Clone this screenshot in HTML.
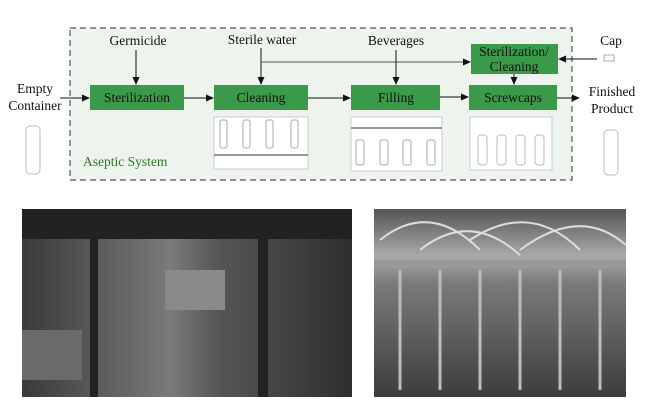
<!DOCTYPE html>
<html><head><style>
body{margin:0;background:#fff;}
svg{display:block;font-family:"Liberation Serif",serif;}
</style></head><body>
<svg width="648" height="407" viewBox="0 0 648 407" xmlns="http://www.w3.org/2000/svg">
<defs>
<marker id="a" markerWidth="8" markerHeight="8" refX="7" refY="4" orient="auto" markerUnits="userSpaceOnUse"><path d="M0,0.5 L8,4 L0,7.5 Z" fill="#111"/></marker>
<linearGradient id="lp" x1="0" y1="0" x2="1" y2="0"><stop offset="0" stop-color="#3a3a3a"/><stop offset="0.45" stop-color="#7a7a7a"/><stop offset="0.6" stop-color="#555"/><stop offset="1" stop-color="#2e2e2e"/></linearGradient>
<linearGradient id="rp" x1="0" y1="0" x2="0" y2="1"><stop offset="0" stop-color="#555"/><stop offset="0.25" stop-color="#aaa"/><stop offset="0.4" stop-color="#7a7a7a"/><stop offset="1" stop-color="#3c3c3c"/></linearGradient>
</defs>
<rect x="70" y="28" width="502" height="152" fill="#edf4ee" stroke="#555" stroke-width="1.2" stroke-dasharray="6,4"/>
<g font-size="13.5" fill="#111">
<text x="138" y="45" text-anchor="middle">Germicide</text>
<text x="262" y="44" text-anchor="middle">Sterile water</text>
<text x="396" y="45" text-anchor="middle">Beverages</text>
<text x="611" y="45" text-anchor="middle">Cap</text>
<text x="35" y="93" text-anchor="middle">Empty</text>
<text x="35" y="110" text-anchor="middle">Container</text>
<text x="612" y="96" text-anchor="middle">Finished</text>
<text x="612" y="113" text-anchor="middle">Product</text>
</g>
<text x="83" y="166" font-size="13.5" fill="#2a7a2a">Aseptic System</text>
<g fill="#3a9a4a">
<rect x="90" y="85" width="94" height="25"/>
<rect x="214" y="85" width="94" height="25"/>
<rect x="351" y="85" width="89" height="25"/>
<rect x="469" y="85" width="88" height="25"/>
<rect x="471" y="44" width="87" height="30"/>
</g>
<g font-size="13.5" fill="#111" text-anchor="middle">
<text x="137" y="102">Sterilization</text>
<text x="261" y="102">Cleaning</text>
<text x="396" y="102">Filling</text>
<text x="513" y="102">Screwcaps</text>
<text x="514" y="56">Sterilization/</text>
<text x="514" y="71">Cleaning</text>
</g>
<g stroke="#111" stroke-width="1" fill="none">
<line x1="60" y1="98" x2="89" y2="98" marker-end="url(#a)"/>
<line x1="184" y1="98" x2="213" y2="98" marker-end="url(#a)"/>
<line x1="308" y1="98" x2="350" y2="98" marker-end="url(#a)"/>
<line x1="440" y1="97" x2="468" y2="97" marker-end="url(#a)"/>
<line x1="557" y1="98" x2="579" y2="98" marker-end="url(#a)"/>
<line x1="136" y1="50" x2="136" y2="84" marker-end="url(#a)"/>
<line x1="261" y1="48" x2="261" y2="84" marker-end="url(#a)"/>
<line x1="261" y1="62" x2="470" y2="62" marker-end="url(#a)" stroke="#555"/>
<line x1="396" y1="50" x2="396" y2="84" marker-end="url(#a)"/>
<line x1="514" y1="74" x2="514" y2="84" marker-end="url(#a)"/>
<line x1="597" y1="59" x2="559" y2="59" marker-end="url(#a)"/>
</g>
<rect x="604" y="55" width="10" height="6" fill="#fff" stroke="#888" stroke-width="0.7"/>
<rect x="214" y="117" width="94" height="52" fill="#fff" stroke="#ccc"/>
<line x1="214" y1="155" x2="308" y2="155" stroke="#999" stroke-width="2"/>
<g fill="none" stroke="#aaa">
<rect x="220" y="120" width="7" height="28" rx="2"/><rect x="243" y="120" width="7" height="28" rx="2"/><rect x="266" y="120" width="7" height="28" rx="2"/><rect x="291" y="120" width="7" height="28" rx="2"/>
</g>
<rect x="351" y="117" width="91" height="54" fill="#fff" stroke="#ccc"/>
<line x1="351" y1="128" x2="442" y2="128" stroke="#999" stroke-width="2"/>
<g fill="none" stroke="#aaa">
<rect x="356" y="140" width="8" height="25" rx="2"/><rect x="380" y="140" width="8" height="25" rx="2"/><rect x="403" y="140" width="8" height="25" rx="2"/><rect x="427" y="140" width="8" height="25" rx="2"/>
</g>
<rect x="470" y="117" width="82" height="53" fill="#fff" stroke="#ccc"/>
<g fill="none" stroke="#bbb">
<rect x="478" y="135" width="9" height="30" rx="3"/><rect x="497" y="135" width="9" height="30" rx="3"/><rect x="516" y="135" width="9" height="30" rx="3"/><rect x="535" y="135" width="9" height="30" rx="3"/>
<rect x="26" y="126" width="14" height="48" rx="4"/>
<rect x="604" y="130" width="14" height="45" rx="4"/>
</g>
<rect x="22" y="209" width="330" height="188" fill="url(#lp)"/>
<rect x="22" y="209" width="330" height="30" fill="#222"/>
<rect x="90" y="209" width="8" height="188" fill="#222"/>
<rect x="258" y="209" width="10" height="188" fill="#222"/>
<rect x="165" y="270" width="60" height="40" fill="#8a8a8a"/>
<rect x="22" y="330" width="60" height="50" fill="#6a6a6a"/>
<rect x="374" y="209" width="252" height="188" fill="url(#rp)"/>
<rect x="374" y="260" width="252" height="8" fill="#999"/>
<g stroke="#ddd" stroke-width="2" fill="none">
<path d="M380,240 Q430,200 480,250"/><path d="M420,250 Q470,210 520,255"/><path d="M470,240 Q530,200 580,250"/><path d="M520,250 Q580,205 626,245"/>
</g>
<g stroke="#bbb" stroke-width="3">
<line x1="400" y1="270" x2="400" y2="390"/><line x1="440" y1="270" x2="440" y2="390"/><line x1="480" y1="270" x2="480" y2="390"/><line x1="520" y1="270" x2="520" y2="390"/><line x1="560" y1="270" x2="560" y2="390"/><line x1="600" y1="270" x2="600" y2="390"/>
</g>
</svg>
</body></html>
